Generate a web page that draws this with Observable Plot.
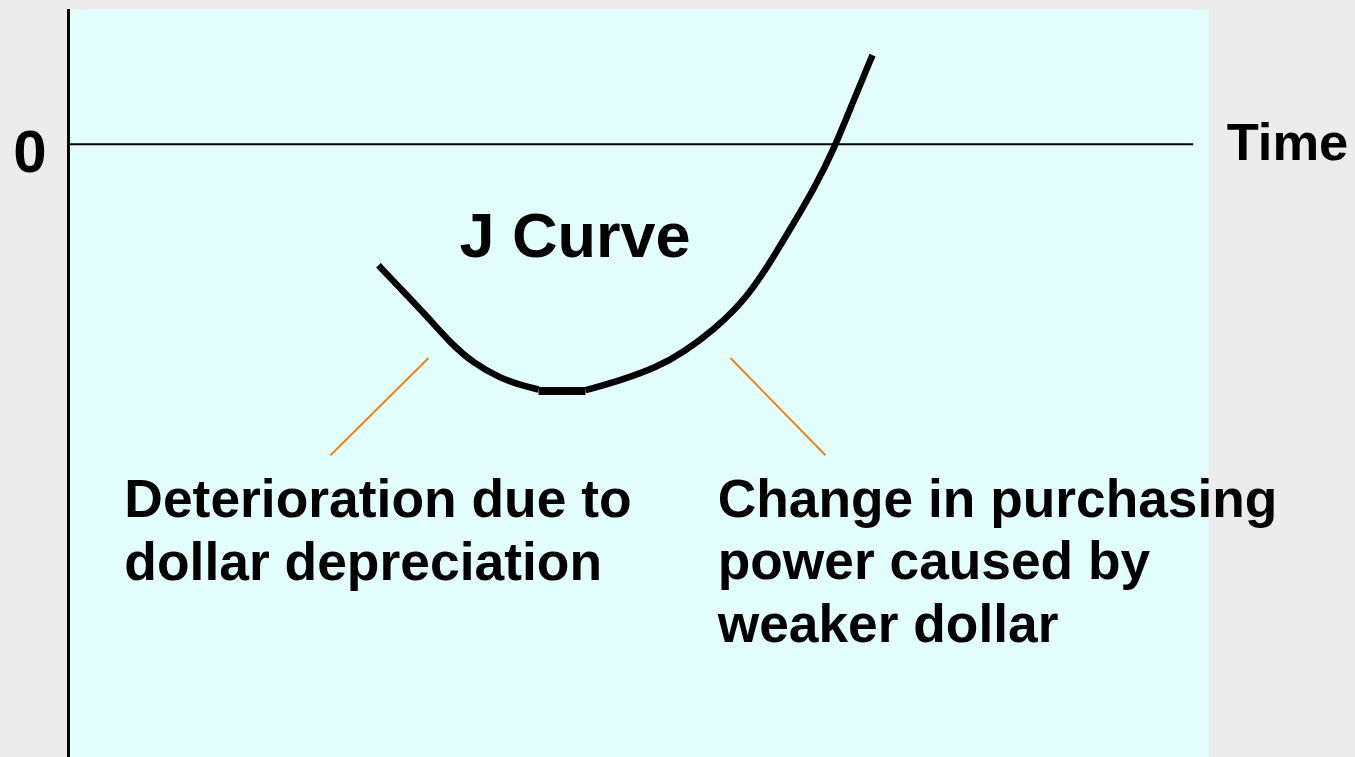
<!DOCTYPE html>
<html>
<head>
<meta charset="utf-8">
<script src="https://cdn.jsdelivr.net/npm/d3@7"></script>
<script src="https://cdn.jsdelivr.net/npm/@observablehq/plot@0.6"></script>
<style>
  html, body { margin: 0; padding: 0; background: #ececec; }
  #chart { width: 1355px; height: 757px; overflow: hidden; }
</style>
</head>
<body>
<div id="chart"></div>
<script>
// Time (x) and trade balance (y) in arbitrary units; 0 = the horizontal axis
const leftArcX  = [27.19, 29.12, 31.49, 33.51, 35.53, 37.89, 39.65, 41.23];
const leftArcY  = [-1.62, -1.93, -2.31, -2.66, -2.93, -3.13, -3.22, -3.28];
const bottomX   = [41.23, 45.35];
const bottomY   = [-3.30, -3.30];
const rightArcX = [45.35, 48.42, 51.67, 53.95, 56.58, 59.56, 61.84, 63.60, 65.35, 67.11, 68.77, 70.53];
const rightArcY = [-3.29, -3.16, -2.98, -2.78, -2.49, -2.05, -1.51, -1.06, -0.61, -0.08, 0.55, 1.19];

// Orange leader lines: [x1, y1, x2, y2]
const leaders = [
  [31.58, -2.86, 22.98, -4.16],
  [58.07, -2.86, 66.40, -4.16]
];

// Text labels
const curveTitle = "J Curve";
const curveTitlePos = [34.3, -1.51];
const leftNote = "Deterioration due to\ndollar depreciation";
const leftNotePos = [4.9, -5.83];
const rightNote = "Change in purchasing\npower caused by\nweaker dollar";
const rightNotePos = [56.95, -6.66];
const zeroLabel = "0";
const timeLabel = "Time";
const timeAxisEnd = 98.7;

const toPts = (xs, ys) => xs.map((x, i) => ({x, y: ys[i]}));
const font = "'Liberation Sans', Arial, Helvetica, sans-serif";

const chart = Plot.plot({
  width: 1355,
  height: 757,
  marginLeft: 68,
  marginRight: 147,
  marginTop: 9,
  marginBottom: 0,
  x: {domain: [0, 100], axis: null},
  y: {domain: [-8.2, 1.8], axis: null},
  style: {background: "transparent", fontFamily: font, overflow: "visible"},
  marks: [
    Plot.frame({fill: "#e3fffd", stroke: null}),
    Plot.ruleY([0], {x1: 0, x2: timeAxisEnd, stroke: "#000", strokeWidth: 2}),
    Plot.ruleX([0], {stroke: "#000", strokeWidth: 3}),
    Plot.link(leaders, {x1: d => d[0], y1: d => d[1], x2: d => d[2], y2: d => d[3], stroke: "#ec8418", strokeWidth: 2}),
    Plot.line(toPts(leftArcX, leftArcY), {x: "x", y: "y", curve: "basis", stroke: "#000", strokeWidth: 6.5, strokeLinecap: "butt"}),
    Plot.line(toPts(bottomX, bottomY), {x: "x", y: "y", stroke: "#000", strokeWidth: 8, strokeLinecap: "butt"}),
    Plot.line(toPts(rightArcX, rightArcY), {x: "x", y: "y", curve: "basis", stroke: "#000", strokeWidth: 6.5, strokeLinecap: "butt"}),
    Plot.text([curveTitle], {x: curveTitlePos[0], y: curveTitlePos[1], text: d => d, textAnchor: "start", lineAnchor: "bottom", fontSize: 63, fontWeight: "bold", fill: "#000"}),
    Plot.text([leftNote], {x: leftNotePos[0], y: leftNotePos[1], text: d => d, textAnchor: "start", lineAnchor: "bottom", lineHeight: 1.18, fontSize: 53.4, fontWeight: "bold", fill: "#000"}),
    Plot.text([rightNote], {x: rightNotePos[0], y: rightNotePos[1], text: d => d, textAnchor: "start", lineAnchor: "bottom", lineHeight: 1.18, fontSize: 53.3, fontWeight: "bold", fill: "#000"}),
    Plot.text([zeroLabel], {x: 0, y: 0, text: d => d, textAnchor: "end", lineAnchor: "bottom", dx: -22, dy: 28, fontSize: 60, fontWeight: "bold", fill: "#000"}),
    Plot.text([timeLabel], {x: timeAxisEnd, y: 0, text: d => d, textAnchor: "start", lineAnchor: "bottom", dx: 33, dy: 16, fontSize: 52.5, fontWeight: "bold", fill: "#000"})
  ]
});
document.getElementById("chart").appendChild(chart);
</script>
</body>
</html>
